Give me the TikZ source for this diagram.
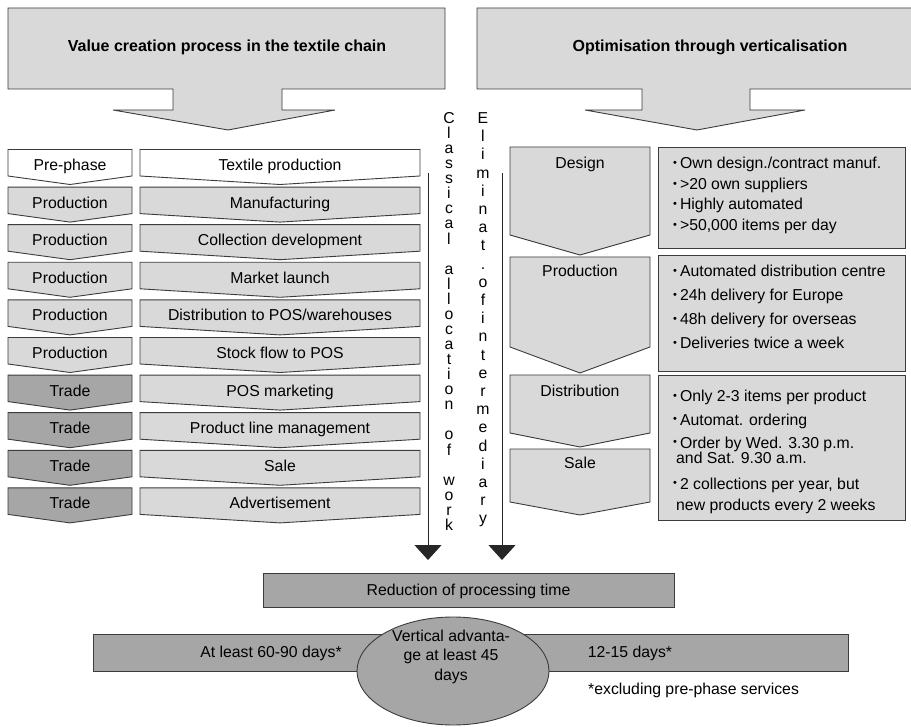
\documentclass[tikz,border=0pt]{standalone}
\usepackage{fontspec}
\setmainfont{Liberation Sans}
\usetikzlibrary{arrows.meta,shapes.geometric}

\definecolor{paleGray}{RGB}{217,217,217}
\definecolor{midGray}{RGB}{166,166,166}
\definecolor{edgeGray}{RGB}{60,60,60}

% one row of the classical chain: left chevron (phase) and right chevron (step)
\newcommand\chainrow[6]{%
  \pgfmathsetmacro\rt{149.5+37.6*#1}%
  \pgfmathsetmacro\rs{\rt+26.5}%
  \pgfmathsetmacro\rp{\rt+35}%
  \filldraw[edge, fill=#3] (8,\rt) -- (132,\rt) -- (132,\rs) -- (70,\rp) -- (8,\rs) -- cycle;
  \node[lbl] (#6a) at (70,\rt+21) {#2};
  \filldraw[edge, fill=#5] (140,\rt) -- (420,\rt) -- (420,\rs) -- (280,\rp) -- (140,\rs) -- cycle;
  \node[lbl] (#6b) at (280,\rt+21) {#4};
}
% small raised bullet
\newcommand\bul{\raisebox{2.2pt}{\fontsize{11}{11}\selectfont\textbullet}\hspace{3pt}}

\begin{document}
\begin{tikzpicture}[x=1pt,y=-1pt,
  edge/.style={draw=edgeGray, line width=0.9pt, line join=miter},
  lbl/.style={anchor=base, inner sep=0pt, font=\fontsize{15.8}{19}\selectfont},
  lblw/.style={anchor=base west, inner sep=0pt, font=\fontsize{15.8}{19}\selectfont},
  titletext/.style={anchor=base, inner sep=0pt, font=\fontsize{16}{19}\selectfont\bfseries},
  vline/.style={draw=black!85, line width=0.8pt, -{Triangle[width=27pt,length=15pt]}}]

\fill[white] (0,0) rectangle (911,727);
\useasboundingbox (0,0) rectangle (911,727);

% ---- header arrows ----
\filldraw[edge, fill=paleGray] (8,8) -- (445,8) -- (445,89) -- (282,89) -- (282,110)
  -- (335,110) -- (228,130) -- (113,110) -- (173,110) -- (173,89) -- (8,89) -- cycle;
\node[titletext] (titleL) at (227,51.5) {Value creation process in the textile chain};

\begin{scope}
  \clip (0,0) rectangle (911,727);
  \filldraw[edge, fill=paleGray] (477,8) -- (945,8) -- (945,89) -- (750,89) -- (750,110)
    -- (805,110) -- (697,130) -- (585,110) -- (642,110) -- (642,89) -- (477,89) -- cycle;
\end{scope}
\node[titletext] (titleR) at (710,51.5) {Optimisation through verticalisation};

% ---- classical chain ----
\chainrow{0}{Pre-phase}{white}{Textile production}{white}{r0}
\chainrow{1}{Production}{paleGray}{Manufacturing}{paleGray}{r1}
\chainrow{2}{Production}{paleGray}{Collection development}{paleGray}{r2}
\chainrow{3}{Production}{paleGray}{Market launch}{paleGray}{r3}
\chainrow{4}{Production}{paleGray}{Distribution to POS/warehouses}{paleGray}{r4}
\chainrow{5}{Production}{paleGray}{Stock flow to POS}{paleGray}{r5}
\chainrow{6}{Trade}{midGray}{POS marketing}{paleGray}{r6}
\chainrow{7}{Trade}{midGray}{Product line management}{paleGray}{r7}
\chainrow{8}{Trade}{midGray}{Sale}{paleGray}{r8}
\chainrow{9}{Trade}{midGray}{Advertisement}{paleGray}{r9}

% ---- vertical arrows with stacked letters ----
\coordinate (c1s) at (428,173);
\coordinate (c1e) at (428,560);
\draw[vline] (c1s) -- (c1e);
\coordinate (c2s) at (502,173);
\coordinate (c2e) at (502,560);
\draw[vline] (c2s) -- (c2e);

\foreach \ch/\k in {C/0,l/1,a/2,s/3,s/4,i/5,c/6,a/7,l/8,a/10,l/11,l/12,o/13,c/14,a/15,t/16,i/17,o/18,n/19,o/21,f/22,w/24,o/25,r/26,k/27}
  \node[lbl] (cl\k) at (449,123.5+15.07*\k) {\ch};

\foreach \ch [count=\k from 0] in {E,l,i,m,i,n,a,t,.,o,f,i,n,t,e,r,m,e,d,i,a,r,y}
  \node[lbl] (el\k) at (483,123.5+18.2*\k) {\ch};

% ---- vertical chain ----
\filldraw[edge, fill=paleGray] (510,147) -- (650,147) -- (650,235) -- (580,255) -- (510,235) -- cycle;
\node[lbl] (vDesign) at (580,169) {Design};
\filldraw[edge, fill=paleGray] (510,257) -- (650,257) -- (650,347) -- (580,373) -- (510,347) -- cycle;
\node[lbl] (vProd) at (580,277) {Production};
\filldraw[edge, fill=paleGray] (510,375) -- (650,375) -- (650,433) -- (580,447) -- (510,433) -- cycle;
\node[lbl] (vDist) at (580,397) {Distribution};
\filldraw[edge, fill=paleGray] (510,449) -- (650,449) -- (650,502) -- (580,515) -- (510,502) -- cycle;
\node[lbl] (vSale) at (580,468) {Sale};

\filldraw[edge, fill=paleGray] (658,147) rectangle (905,248);
\node[lblw] (b11) at (673,169) {\bul Own design./contract manuf.};
\node[lblw] (b12) at (673,189.5) {\bul >20 own suppliers};
\node[lblw] (b13) at (673,210) {\bul Highly automated};
\node[lblw] (b14) at (673,230.5) {\bul >50,000 items per day};

\filldraw[edge, fill=paleGray] (658,255) rectangle (905,371);
\node[lblw] (b21) at (673,277) {\bul Automated distribution centre};
\node[lblw] (b22) at (673,301) {\bul 24h delivery for Europe};
\node[lblw] (b23) at (673,325) {\bul 48h delivery for overseas};
\node[lblw] (b24) at (673,349) {\bul Deliveries twice a week};

\filldraw[edge, fill=paleGray] (658,375) rectangle (905,520);
\node[lblw] (b31) at (673,402) {\bul Only 2-3 items per product};
\node[lblw] (b32) at (673,425) {\bul Automat. ordering};
\node[lblw] (b33) at (673,448) {\bul Order by Wed. 3.30 p.m.};
\node[lblw] (b33b) at (676,464) {and Sat. 9.30 a.m.};
\node[lblw] (b34) at (673,489) {\bul 2 collections per year, but};
\node[lblw] (b34b) at (676,510) {new products every 2 weeks};

% ---- result ----
\filldraw[edge, fill=midGray] (263,573) rectangle (674,607);
\node[lbl] (reduction) at (468.5,595) {Reduction of processing time};

\filldraw[edge, fill=midGray] (93,634) rectangle (848,671);
\node[lbl] (classic) at (271,657) {At least 60-90 days*};
\node[lbl] (vertical) at (630,657) {12-15 days*};

\node[ellipse, edge, fill=midGray, minimum width=192pt, minimum height=108pt, inner sep=0pt] (adv) at (453,671) {};
\node[lbl] (adv1) at (451,641) {Vertical advanta-};
\node[lbl] (adv2) at (451,660.5) {ge at least 45};
\node[lbl] (adv3) at (451,680) {days};

\node[lblw] (note) at (588,694) {*excluding pre-phase services};
\end{tikzpicture}
\end{document}
